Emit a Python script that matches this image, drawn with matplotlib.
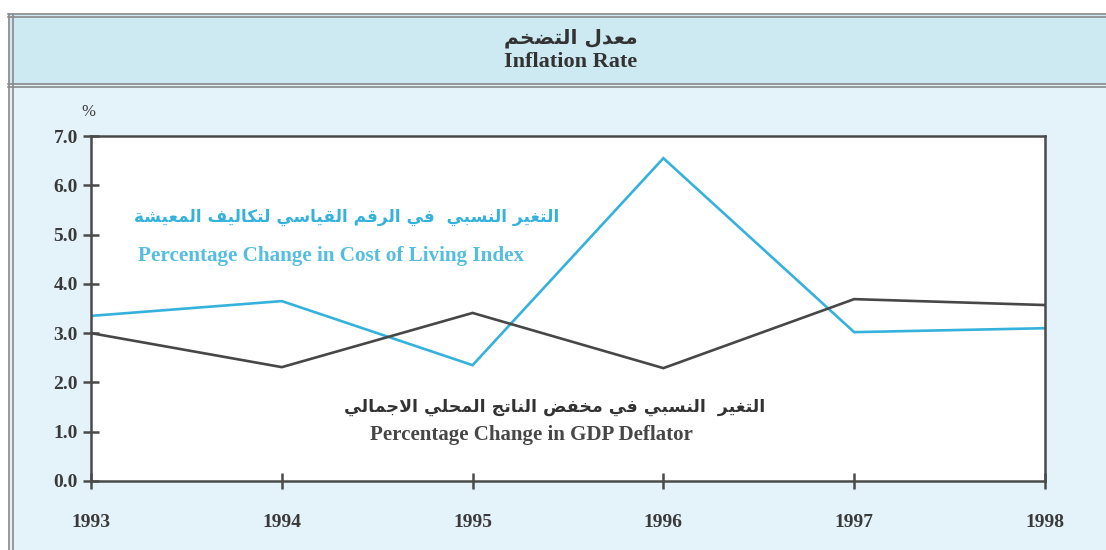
import matplotlib
matplotlib.use("Agg")
import matplotlib.pyplot as plt
from matplotlib.patches import Rectangle
from matplotlib.lines import Line2D

years = [1993, 1994, 1995, 1996, 1997, 1998]
cost_of_living = [3.35, 3.65, 2.35, 6.55, 3.02, 3.10]
gdp_deflator = [3.00, 2.31, 3.41, 2.29, 3.69, 3.57]
y_ticks = [0.0, 1.0, 2.0, 3.0, 4.0, 5.0, 6.0, 7.0]

title_ar = "معدل التضخم"
title_en = "Inflation Rate"
col_ar = "التغير النسبي  في الرقم القياسي لتكاليف المعيشة"
col_en = "Percentage Change in Cost of Living Index"
gdp_ar = "التغير  النسبي في مخفض الناتج المحلي الاجمالي"
gdp_en = "Percentage Change in GDP Deflator"

# minimal arabic shaping (matplotlib has no shaping / bidi)
DUAL = {"ب": 0xFE8F, "ت": 0xFE95, "ث": 0xFE99, "ج": 0xFE9D, "ح": 0xFEA1,
        "خ": 0xFEA5, "س": 0xFEB1, "ش": 0xFEB5, "ص": 0xFEB9, "ض": 0xFEBD,
        "ط": 0xFEC1, "ظ": 0xFEC5, "ع": 0xFEC9, "غ": 0xFECD, "ف": 0xFED1,
        "ق": 0xFED5, "ك": 0xFED9, "ل": 0xFEDD, "م": 0xFEE1, "ن": 0xFEE5,
        "ه": 0xFEE9, "ي": 0xFEF1}
RIGHT = {"ا": 0xFE8D, "ة": 0xFE93, "د": 0xFEA9, "ذ": 0xFEAB, "ر": 0xFEAD,
         "ز": 0xFEAF, "و": 0xFEED, "ى": 0xFEEF, "أ": 0xFE83, "إ": 0xFE87,
         "آ": 0xFE81}


def shape(text):
    chars = list(text)
    out = []
    i = 0
    while i < len(chars):
        c = chars[i]
        prev_joins = i > 0 and chars[i - 1] in DUAL
        if c == "ل" and i + 1 < len(chars) and chars[i + 1] == "ا":
            out.append(chr(0xFEFC if prev_joins else 0xFEFB))
            i += 2
            continue
        nxt = chars[i + 1] if i + 1 < len(chars) else ""
        next_joins = nxt in DUAL or nxt in RIGHT
        if c in DUAL:
            base = DUAL[c]
            if prev_joins and next_joins:
                out.append(chr(base + 3))
            elif prev_joins:
                out.append(chr(base + 1))
            elif next_joins:
                out.append(chr(base + 2))
            else:
                out.append(chr(base))
        elif c in RIGHT:
            out.append(chr(RIGHT[c] + (1 if prev_joins else 0)))
        else:
            out.append(c)
        i += 1
    return "".join(reversed(out))


cyan = "#35b2dc"
dark = "#474747"
serif = "Liberation Serif"
arfont = "DejaVu Sans"

fig = plt.figure(figsize=(11.06, 5.5), dpi=100)
fig.patch.set_facecolor("white")

# panel background and title band
fig.patches.append(Rectangle((0.007, 0.0), 0.993, 0.975, transform=fig.transFigure,
                             facecolor="#e3f3f9", edgecolor="none", zorder=-2))
fig.patches.append(Rectangle((0.007, 0.845), 0.993, 0.13, transform=fig.transFigure,
                             facecolor="#cde9f2", edgecolor="none", zorder=-2))
for y in (0.975, 0.970, 0.847, 0.842):
    fig.lines.append(Line2D([0.007, 1.0], [y, y], transform=fig.transFigure,
                            color="#8a8a8a", lw=1.2, zorder=-1))
for x in (0.008, 0.012):
    fig.lines.append(Line2D([x, x], [0.0, 0.975], transform=fig.transFigure,
                            color="#8a8a8a", lw=1.2, zorder=-1))

fig.text(0.516, 0.930, shape(title_ar), ha="center", va="center",
         fontsize=14.5, fontweight="bold", family=arfont, color="#333333")
fig.text(0.516, 0.887, title_en, ha="center", va="center",
         fontsize=16, fontweight="bold", family=serif, color="#333333")

ax = fig.add_axes([0.0823, 0.1255, 0.8625, 0.6272])
ax.set_zorder(1)
ax.set_facecolor("white")
ax.plot(years, cost_of_living, color=cyan, lw=1.9, solid_joinstyle="miter")
ax.plot(years, gdp_deflator, color=dark, lw=1.9, solid_joinstyle="miter")

ax.set_xlim(years[0], years[-1])
ax.set_ylim(0, 7)
ax.set_xticks(years)
ax.set_yticks(y_ticks)
ax.set_yticklabels([f"{v:.1f}" for v in y_ticks])
for s in ax.spines.values():
    s.set_color("#4a4a4a")
    s.set_linewidth(1.8)
ax.tick_params(axis="both", direction="inout", length=11, width=1.8, color="#4a4a4a",
               labelsize=14, labelcolor="#3a3a3a")
ax.tick_params(axis="x", pad=18)
ax.tick_params(axis="y", pad=4)
for lab in ax.get_xticklabels() + ax.get_yticklabels():
    lab.set_family(serif)
    lab.set_fontweight("bold")

ax.text(-0.003, 1.045, "%", transform=ax.transAxes, ha="center", va="bottom",
        fontsize=12, family=serif, color="#3a3a3a")

ax.text(1994.34, 5.36, shape(col_ar), ha="center", va="center", color=cyan,
        fontsize=12.2, fontweight="bold", family=arfont)
ax.text(1994.26, 4.56, col_en, ha="center", va="center", color="#55bde0",
        fontsize=15.2, fontweight="bold", family=serif)
ax.text(1995.43, 1.50, shape(gdp_ar), ha="center", va="center", color="#333333",
        fontsize=12.5, fontweight="bold", family=arfont)
ax.text(1995.31, 0.93, gdp_en, ha="center", va="center", color=dark,
        fontsize=15.1, fontweight="bold", family=serif)

fig.savefig("out.png", dpi=100)
